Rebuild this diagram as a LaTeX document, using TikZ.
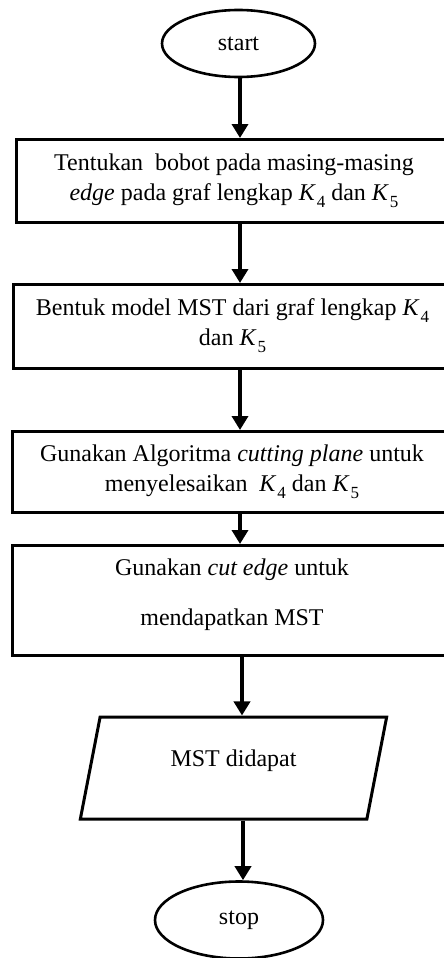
\documentclass[tikz,border=0pt]{standalone}
\usepackage{fontspec}
\setmainfont{Liberation Serif}
\usetikzlibrary{arrows.meta,shapes.geometric}
% italic K with a lowered upright index
\newcommand\Ksub[1]{\textit{K}\kern0.04em\raisebox{-0.28em}{\fontsize{17}{17}\selectfont #1}}
\begin{document}
\begin{tikzpicture}[x=1pt,y=-1pt,
  every node/.style={font=\fontsize{24}{30}\selectfont},
  box/.style={draw, line width=3pt, rectangle, anchor=north west, align=center, inner sep=0pt},
  term/.style={draw, line width=2.6pt, ellipse, inner sep=0pt},
  io/.style={draw, line width=3pt, trapezium, trapezium left angle=75.7, trapezium right angle=104.3,
    trapezium stretches=true, inner sep=0pt, align=center},
  arr/.style={line width=4pt, -{Triangle[width=16pt,length=14pt]}}
]
\useasboundingbox (0,0) rectangle (444,958);
\clip (0,0) rectangle (444,958);
\fill[white] (0,0) rectangle (444,958);

\coordinate (ax) at (240,0);

\node[term, minimum width=153pt, minimum height=67pt] (start) at (238.5,43.5) {start};

\node[box, minimum width=435pt, minimum height=83pt] (b1) at (15,138)
  {Tentukan\ \ bobot pada masing-masing\\\textit{edge} pada graf lengkap \Ksub4 dan \Ksub5};

\node[box, minimum width=438pt, minimum height=84pt] (b2) at (12,283)
  {Bentuk model MST dari graf lengkap \Ksub4\\dan \Ksub5\rule[-8pt]{0pt}{8pt}};

\node[box, minimum width=439pt, minimum height=81pt] (b3) at (11,430)
  {Gunakan Algoritma \textit{cutting plane} untuk\\menyelesaikan\ \ \Ksub4 dan \Ksub5\rule[-8pt]{0pt}{8pt}};

\node[box, minimum width=439pt, minimum height=110pt] (b4) at (11,544)
  {Gunakan \textit{cut edge} untuk\\[20pt]mendapatkan MST\rule[-16pt]{0pt}{16pt}};

\node[io, minimum width=307pt, minimum height=102pt] (out) at (233.5,768)
  {MST didapat\rule[-20pt]{0pt}{20pt}};

\node[term, minimum width=168pt, minimum height=77pt] (stop) at (239,920) {stop};

\draw[arr] (start.south -| ax) -- (b1.north -| ax);
\draw[arr] (b1.south -| ax) -- (b2.north -| ax);
\draw[arr] (b2.south -| ax) -- (b3.north -| ax);
\draw[arr] (b3.south -| ax) -- (b4.north -| ax);
\draw[arr] ([xshift=2pt]b4.south -| ax) -- ([xshift=2pt]out.north -| ax);
\draw[arr] ([xshift=3pt]out.south -| ax) -- ([xshift=3pt]stop.north -| ax);
\end{tikzpicture}
\end{document}
